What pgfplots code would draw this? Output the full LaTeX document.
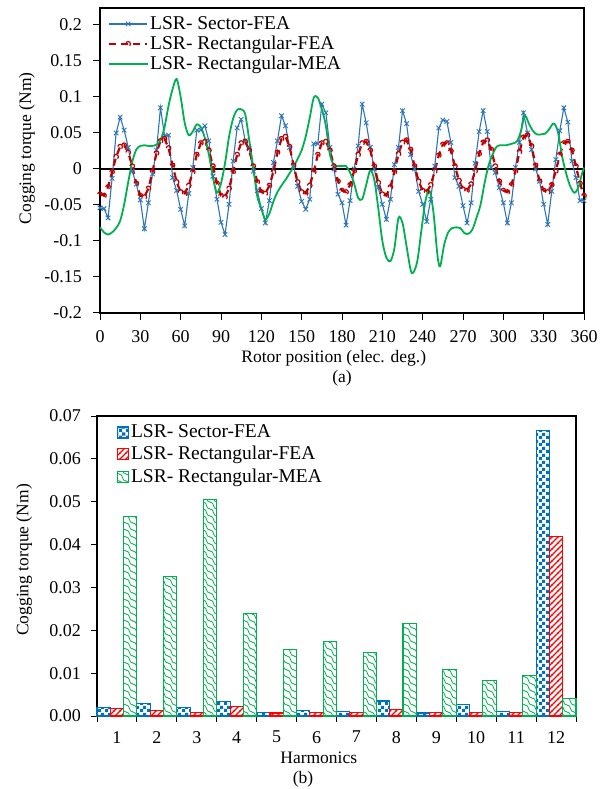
\documentclass[border=0pt]{standalone}
\usepackage{fontspec}
\setmainfont{Liberation Serif}
\usepackage{pgfplots}
\pgfplotsset{compat=1.18}
\usetikzlibrary{patterns}
\definecolor{lblue}{RGB}{46,117,182}
\definecolor{ldred}{RGB}{192,0,0}
\definecolor{lgreen}{RGB}{0,176,80}
\definecolor{bblue}{RGB}{0,112,192}
\definecolor{bred}{RGB}{255,0,0}
\pgfdeclarepatternformonly{mychecker}{\pgfpointorigin}{\pgfqpoint{7pt}{7pt}}{\pgfqpoint{7pt}{7pt}}{%
\pgfpathrectangle{\pgfpointorigin}{\pgfqpoint{3.5pt}{3.5pt}}%
\pgfpathrectangle{\pgfqpoint{3.5pt}{3.5pt}}{\pgfqpoint{3.5pt}{3.5pt}}%
\pgfusepath{fill}}
\pgfdeclarepatternformonly{mystripes}{\pgfqpoint{-1pt}{-1pt}}{\pgfqpoint{7pt}{7pt}}{\pgfqpoint{6pt}{6pt}}{%
\pgfsetlinewidth{1.2pt}%
\pgfpathmoveto{\pgfqpoint{-0.5pt}{-0.5pt}}\pgfpathlineto{\pgfqpoint{6.5pt}{6.5pt}}%
\pgfusepath{stroke}}
\pgfdeclarepatternformonly{mywave}{\pgfqpoint{-1pt}{-1pt}}{\pgfqpoint{8pt}{8pt}}{\pgfqpoint{7pt}{7pt}}{%
\pgfsetlinewidth{0.8pt}%
\pgfpathmoveto{\pgfqpoint{0pt}{7pt}}%
\pgfpathcurveto{\pgfqpoint{5pt}{7pt}}{\pgfqpoint{2pt}{0pt}}{\pgfqpoint{7pt}{0pt}}%
\pgfusepath{stroke}}
\newcommand{\tickfont}{\fontsize{18}{21}\selectfont}
\newcommand{\labfont}{\fontsize{17.5}{21}\selectfont}
\newcommand{\legfont}{\fontsize{19.5}{22}\selectfont}
\begin{document}
\fontsize{18}{21}\selectfont
\begin{tikzpicture}
\path[use as bounding box] (0,0) rectangle (613pt,789pt);
% ---------------- (a) ----------------
\begin{axis}[
  at={(100pt,476pt)}, anchor=south west, scale only axis,
  width=484pt, height=305pt,
  xmin=0, xmax=360, ymin=-0.2, ymax=0.2236,
  xtick={0,30,...,360},
  xticklabels={0,30,60,90,120,150,180,210,240,270,300,330,360},
  ytick={-0.2,-0.15,-0.1,-0.05,0,0.05,0.1,0.15,0.2},
  yticklabels={-0.2,-0.15,-0.1,-0.05,0,0.05,0.1,0.15,0.2},
  tick label style={font=\tickfont},
  xticklabel style={yshift=-4pt},
  yticklabel style={xshift=-5pt},
  tick align=outside, xtick pos=bottom, ytick pos=left,
  major tick length=7pt,
  tick style={black, line width=1pt},
  axis line style={black, line width=1.2pt},
  xlabel={Rotor position (elec. deg.)},
  xlabel style={at={(axis description cs:0.483,-0.15)}, anchor=center, font=\labfont},
  ylabel={Cogging torque (Nm)},
  ylabel style={at={(axis description cs:-0.151,0.54)}, anchor=center, font=\labfont},
  legend cell align=left,
  legend style={draw=none, fill=none, at={(0.01,0.987)}, anchor=north west,
    font=\legfont, row sep=0pt},
  legend image code/.code={\draw[mark repeat=2,mark phase=2,#1] plot coordinates {(0pt,0pt) (19pt,0pt) (38pt,0pt)};},
  clip=false,
]
\addplot[black, line width=1.6pt, forget plot] coordinates {(0,0) (360,0)};
\addplot[color=lblue, line width=1.1pt, mark=x, mark size=3.2pt, mark options={line width=0.9pt}] coordinates {
(0,-0.054) (3,-0.055) (6,-0.068) (9,-0.013) (12,0.050) (15,0.072) (18,0.054) (21,0.030) (24,-0.003) (27,-0.021)
(30,-0.043) (33,-0.083) (36,-0.047) (39,-0.007) (42,0.026) (45,0.085) (48,0.046) (51,0.047) (54,-0.012) (57,-0.030)
(60,-0.056) (63,-0.079) (66,-0.034) (69,0.002) (72,0.054) (75,0.054) (78,0.060) (81,0.039) (84,-0.010) (87,-0.042)
(90,-0.074) (93,-0.091) (96,-0.049) (99,0.011) (102,0.057) (105,0.069) (108,0.039) (111,0.028) (114,-0.003) (117,-0.030)
(120,-0.055) (123,-0.075) (126,-0.044) (129,0.009) (132,0.039) (135,0.074) (138,0.060) (141,0.030) (144,0.005) (147,-0.024)
(150,-0.045) (153,-0.056) (156,-0.042) (159,0.035) (162,0.035) (165,0.090) (168,0.078) (171,0.030) (174,0.000) (177,-0.035)
(180,-0.047) (183,-0.078) (186,-0.044) (189,0.000) (192,0.032) (195,0.090) (198,0.064) (201,0.030) (204,0.000) (207,-0.026)
(210,-0.049) (213,-0.070) (216,-0.042) (219,0.006) (222,0.030) (225,0.081) (228,0.063) (231,0.020) (234,0.000) (237,-0.031)
(240,-0.049) (243,-0.073) (246,-0.042) (249,0.004) (252,0.057) (255,0.068) (258,0.066) (261,0.037) (264,-0.012) (267,-0.024)
(270,-0.051) (273,-0.075) (276,-0.047) (279,0.008) (282,0.052) (285,0.081) (288,0.052) (291,0.002) (294,-0.005) (297,-0.026)
(300,-0.047) (303,-0.075) (306,-0.047) (309,0.002) (312,0.037) (315,0.078) (318,0.050) (321,0.027) (324,0.000) (327,-0.017)
(330,-0.049) (333,-0.077) (336,-0.031) (339,0.013) (342,0.053) (345,0.085) (348,0.065) (351,0.011) (354,-0.012) (357,-0.044)
(360,-0.044)};
\addlegendentry{LSR- Sector-FEA}
\addplot[color=ldred, line width=2.2pt, dash pattern=on 7pt off 5pt, mark=o, mark size=2.3pt, mark options={line width=1.2pt}] coordinates {
(0,-0.035) (3,-0.037) (6,-0.025) (9,-0.004) (12,0.017) (15,0.031) (18,0.033) (21,0.023) (24,0.004) (27,-0.020)
(30,-0.037) (33,-0.039) (36,-0.027) (39,-0.004) (42,0.022) (45,0.039) (48,0.042) (51,0.029) (54,0.005) (57,-0.018)
(60,-0.032) (63,-0.034) (66,-0.023) (69,-0.004) (72,0.020) (75,0.036) (78,0.038) (81,0.026) (84,0.004) (87,-0.020)
(90,-0.037) (93,-0.039) (96,-0.027) (99,-0.004) (102,0.020) (105,0.036) (108,0.038) (111,0.026) (114,0.004) (117,-0.018)
(120,-0.032) (123,-0.034) (126,-0.023) (129,-0.004) (132,0.023) (135,0.042) (138,0.045) (141,0.031) (144,0.005) (147,-0.018)
(150,-0.032) (153,-0.034) (156,-0.023) (159,-0.004) (162,0.020) (165,0.036) (168,0.038) (171,0.026) (174,0.004) (177,-0.017)
(180,-0.030) (183,-0.032) (186,-0.022) (189,-0.003) (192,0.020) (195,0.036) (198,0.038) (201,0.026) (204,0.004) (207,-0.019)
(210,-0.035) (213,-0.037) (216,-0.025) (219,-0.004) (222,0.021) (225,0.037) (228,0.040) (231,0.027) (234,0.004) (237,-0.017)
(240,-0.030) (243,-0.032) (246,-0.022) (249,-0.003) (252,0.019) (255,0.034) (258,0.036) (261,0.025) (264,0.004) (267,-0.016)
(270,-0.028) (273,-0.030) (276,-0.021) (279,-0.003) (282,0.021) (285,0.037) (288,0.040) (291,0.027) (294,0.004) (297,-0.017)
(300,-0.030) (303,-0.032) (306,-0.022) (309,-0.003) (312,0.024) (315,0.044) (318,0.047) (321,0.032) (324,0.005) (327,-0.017)
(330,-0.030) (333,-0.032) (336,-0.022) (339,-0.003) (342,0.020) (345,0.036) (348,0.038) (351,0.026) (354,0.004) (357,-0.020)
(360,-0.037)};
\addlegendentry{LSR- Rectangular-FEA}
\addplot[color=lgreen, line width=1.8pt, smooth, tension=0.5] coordinates {
(0,-0.081) (3,-0.088) (6,-0.091) (9,-0.088) (12,-0.082) (15,-0.072) (18,-0.049) (21,-0.018) (24,0.010) (27,0.027)
(30,0.032) (33,0.033) (36,0.032) (39,0.032) (42,0.034) (45,0.040) (48,0.058) (51,0.088) (54,0.111) (57,0.125)
(60,0.100) (63,0.064) (66,0.047) (69,0.052) (72,0.062) (75,0.058) (78,0.043) (81,0.020) (84,-0.012) (87,-0.033)
(90,-0.020) (93,0.008) (96,0.045) (99,0.070) (102,0.082) (105,0.083) (108,0.076) (111,0.040) (114,0.002) (117,-0.038)
(120,-0.055) (123,-0.070) (126,-0.062) (129,-0.045) (132,-0.032) (135,-0.023) (138,-0.015) (141,-0.006) (144,0.003) (147,0.014)
(150,0.026) (153,0.045) (156,0.071) (159,0.099) (162,0.099) (165,0.083) (168,0.060) (171,0.020) (174,0.005) (177,0.004)
(180,0.004) (183,0.004) (186,-0.005) (189,-0.020) (192,-0.040) (195,-0.042) (198,-0.022) (201,-0.002) (204,-0.015) (207,-0.055)
(210,-0.100) (213,-0.123) (216,-0.128) (219,-0.110) (222,-0.068) (225,-0.075) (228,-0.107) (231,-0.140) (233,-0.144) (236,-0.128)
(239,-0.086) (242,-0.045) (245,-0.030) (248,-0.060) (251,-0.120) (253,-0.135) (256,-0.105) (259,-0.088) (262,-0.082) (265,-0.081)
(268,-0.082) (271,-0.089) (274,-0.090) (277,-0.084) (280,-0.068) (283,-0.050) (286,-0.020) (289,0.005) (292,0.020) (295,0.031)
(298,0.033) (302,0.033) (306,0.035) (310,0.038) (313,0.052) (316,0.074) (319,0.063) (322,0.053) (325,0.048) (328,0.048)
(331,0.049) (334,0.055) (337,0.063) (339,0.060) (341,0.048) (344,0.015) (347,-0.008) (350,-0.025) (353,-0.033) (356,-0.025)
(358,-0.010) (360,0.002)};
\addlegendentry{LSR- Rectangular-MEA}
\node[font=\labfont] at (rel axis cs:0.5,-0.215) {(a)};
\end{axis}
% ---------------- (b) ----------------
\begin{axis}[
  at={(97pt,73pt)}, anchor=south west, scale only axis,
  width=479pt, height=300pt,
  xmin=0.5, xmax=12.5, ymin=0, ymax=0.07,
  scaled y ticks=false,
  ybar=0pt, bar width=13.3pt,
  xtick={1,2,3,4,5,6,7,8,9,10,11,12},
  xticklabels={1,2,3,4,5,6,7,8,9,10,11,12},
  minor xtick={0.5,1.5,2.5,3.5,4.5,5.5,6.5,7.5,8.5,9.5,10.5,11.5,12.5},
  ytick={0,0.01,0.02,0.03,0.04,0.05,0.06,0.07},
  yticklabels={0.00,0.01,0.02,0.03,0.04,0.05,0.06,0.07},
  tick label style={font=\tickfont},
  xticklabel style={yshift=-3pt},
  yticklabel style={xshift=-4pt},
  tick align=outside, xtick pos=bottom, ytick pos=left,
  major tick length=6pt, minor tick length=6pt,
  major x tick style={draw=none},
  minor x tick style={black, line width=1pt},
  major y tick style={black, line width=1pt},
  axis line style={black, line width=1.2pt},
  xlabel={Harmonics},
  xlabel style={at={(axis description cs:0.463,-0.14)}, anchor=center, font=\labfont},
  ylabel={Cogging torque (Nm)},
  ylabel style={at={(axis description cs:-0.152,0.52)}, anchor=center, font=\labfont},
  legend cell align=left,
  legend style={draw=none, fill=none, at={(0.035,0.985)}, anchor=north west,
    font=\legfont, row sep=2pt},
  legend image code/.code={\draw[#1] (0pt,-5.5pt) rectangle (11pt,5.5pt);},
  clip=false,
]
\addplot[draw=bblue, line width=1.1pt, pattern=mychecker, pattern color=bblue] coordinates {
(1,0.0019) (2,0.0029) (3,0.0020) (4,0.0033) (5,0.0009) (6,0.0012) (7,0.0010) (8,0.0035) (9,0.0007) (10,0.0027) (11,0.0011) (12,0.0667)};
\addlegendentry{LSR- Sector-FEA}
\addplot[draw=bred, line width=1.1pt, pattern=mystripes, pattern color=bred] coordinates {
(1,0.0017) (2,0.0013) (3,0.0009) (4,0.0023) (5,0.0007) (6,0.0008) (7,0.0008) (8,0.0016) (9,0.0009) (10,0.0008) (11,0.0008) (12,0.0418)};
\addlegendentry{LSR- Rectangular-FEA}
\addplot[draw=lgreen, line width=1.1pt, pattern=mywave, pattern color=lgreen] coordinates {
(1,0.0465) (2,0.0325) (3,0.0506) (4,0.0240) (5,0.0156) (6,0.0173) (7,0.0148) (8,0.0216) (9,0.0108) (10,0.0083) (11,0.0094) (12,0.0041)};
\addlegendentry{LSR- Rectangular-MEA}
\node[font=\labfont] at (rel axis cs:0.43,-0.21) {(b)};
\end{axis}
\end{tikzpicture}
\end{document}
